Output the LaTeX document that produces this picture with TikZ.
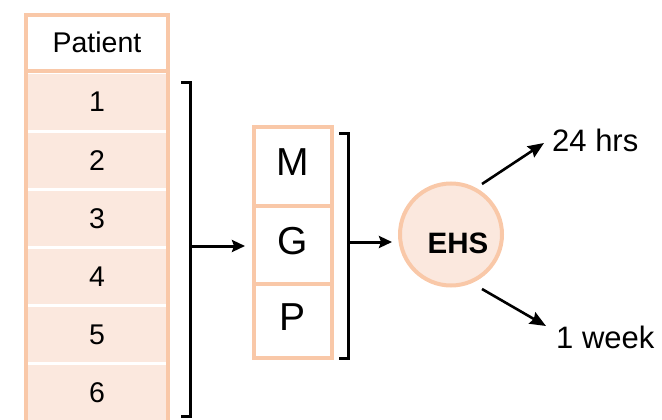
\documentclass[tikz,border=0pt]{standalone}
\usepackage{fontspec}
\setmainfont{Liberation Sans}
\usetikzlibrary{arrows.meta}
\definecolor{peachline}{HTML}{F9C8A8}
\definecolor{peachfill}{HTML}{FBE8DE}
\begin{document}
\begin{tikzpicture}[x=1pt,y=-1pt,
  txt/.style={font=\fontsize{28.5}{32}\selectfont, text height=20pt, text depth=0pt},
  outtxt/.style={font=\fontsize{31}{35}\selectfont},
  bigtxt/.style={font=\fontsize{39}{44}\selectfont, text height=28pt, text depth=10pt},
  rowcell/.style={rectangle, fill=peachfill, draw=white, line width=3pt,
    minimum width=142pt, minimum height=58pt, inner sep=0pt, txt},
  border/.style={draw=peachline, line width=4pt},
  mbox/.style={rectangle, border, fill=white, minimum width=78pt, inner sep=0pt, bigtxt},
  brk/.style={draw=black, line width=3pt},
  arr/.style={draw=black, line width=3pt, -{Stealth[length=13pt,width=12pt,inset=2pt]}},
  darr/.style={draw=black, line width=2.6pt, -{Stealth[length=16pt,width=13pt,inset=2pt]}}
]
\useasboundingbox (0,0) rectangle (662,420);
\clip (0,0) rectangle (662,420);

% patient table
\foreach \i in {1,...,6}
  \node[rowcell] (r\i) at (97,{102+58*(\i-1)}) {\i};
\draw[border] (26,71) -- (26,430);
\draw[border] (168,71) -- (168,430);
\node[rectangle, border, fill=white, minimum width=142pt, minimum height=56pt,
  inner sep=0pt, txt] (hdr) at (97,43) {Patient};

% left bracket
\draw[brk] (181,83) -- (190,83) -- (190,416) -- (181,416);
\coordinate (b1) at (190,246);

% M G P boxes
\node[mbox, minimum height=79pt] (M) at (293,166.5) {M};
\node[mbox, minimum height=78pt] (G) at (293,245) {G};
\node[mbox, minimum height=74pt] (P) at (293,321) {P};
\draw[arr, shorten >=7pt] (b1) -- (b1 -| G.west);

% right bracket
\draw[brk] (339,133) -- (348,133) -- (348,358) -- (339,358);
\coordinate (b2) at (348,242);

% EHS circle
\node[circle, border, fill=peachfill, minimum size=102pt, inner sep=0pt,
  label={[xshift=7pt, yshift=-8.5pt, inner sep=0pt, text height=21pt, text depth=0pt,
  font=\bfseries\fontsize{29.5}{33}\selectfont]center:EHS}] (EHS) at (451,234.5) {};
\draw[arr, shorten >=6pt] (b2) -- (b2 -| EHS.west);

% outcomes
\node[outtxt, anchor=base west, inner sep=0pt] (hrs) at (552,151) {24 hrs};
\node[outtxt, anchor=base west, inner sep=0pt] (week) at (556,348) {1 week};
\coordinate (a1s) at (482,184);
\coordinate (a1e) at (544,143);
\coordinate (a2s) at (482,289);
\coordinate (a2e) at (546,326);
\draw[darr] (a1s) -- (a1e);
\draw[darr] (a2s) -- (a2e);
\end{tikzpicture}
\end{document}
